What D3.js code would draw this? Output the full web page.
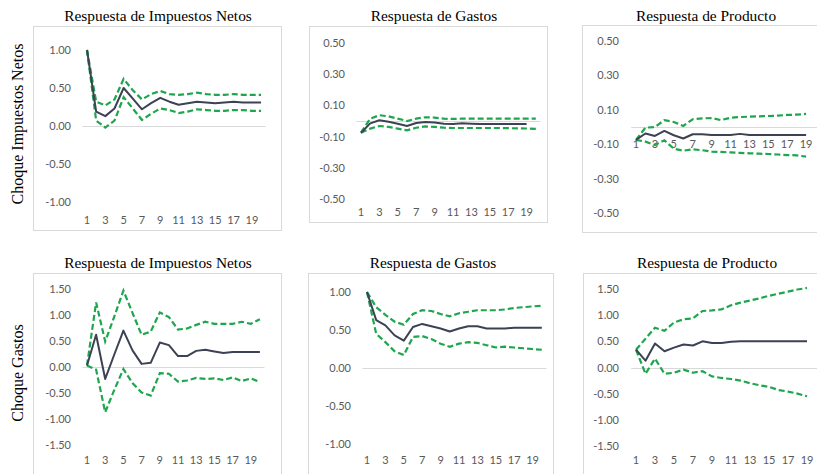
<!DOCTYPE html>
<html>
<head>
<meta charset="utf-8">
<script src="https://cdn.jsdelivr.net/npm/d3@7"></script>
<style>
  body { margin: 0; background: #fff; }
</style>
</head>
<body>
<svg id="chart" width="817" height="474"></svg>
<script>
// periods after the shock and the labelled ticks
const periods = [1, 2, 3, 4, 5, 6, 7, 8, 9, 10, 11, 12, 13, 14, 15, 16, 17, 18, 19, 20];
const xTickLabels = [1, 3, 5, 7, 9, 11, 13, 15, 17, 19];

const rowLabels = ["Choque Impuestos Netos", "Choque Gastos"];
const colTitles = ["Respuesta de Impuestos Netos", "Respuesta de Gastos", "Respuesta de Producto"];

const yTicksOne = [-1, -0.5, 0, 0.5, 1];
const yTicksHalf = [-0.5, -0.3, -0.1, 0.1, 0.3, 0.5];
const yTicksOneHalf = [-1.5, -1, -0.5, 0, 0.5, 1, 1.5];

// shock: impuestos netos
const impImpMid = [1.00, 0.19, 0.13, 0.23, 0.50, 0.36, 0.22, 0.30, 0.37, 0.32, 0.28, 0.30, 0.32, 0.31, 0.30, 0.31, 0.32, 0.31, 0.31, 0.31];
const impImpHi  = [1.00, 0.32, 0.27, 0.35, 0.62, 0.47, 0.35, 0.42, 0.46, 0.42, 0.41, 0.42, 0.44, 0.42, 0.41, 0.41, 0.42, 0.41, 0.41, 0.41];
const impImpLo  = [1.00, 0.07, -0.02, 0.07, 0.38, 0.23, 0.08, 0.16, 0.23, 0.21, 0.17, 0.19, 0.22, 0.21, 0.20, 0.20, 0.21, 0.21, 0.20, 0.20];

const impGasMid = [-0.075, -0.015, 0.005, -0.005, -0.018, -0.032, -0.013, -0.006, -0.010, -0.017, -0.020, -0.015, -0.018, -0.020, -0.020, -0.020, -0.020, -0.020, -0.020];
const impGasHi  = [-0.075, 0.015, 0.037, 0.030, 0.015, 0.000, 0.015, 0.024, 0.022, 0.015, 0.013, 0.015, 0.015, 0.015, 0.015, 0.015, 0.015, 0.015, 0.015, 0.015];
const impGasLo  = [-0.075, -0.049, -0.032, -0.038, -0.049, -0.060, -0.043, -0.035, -0.038, -0.043, -0.045, -0.045, -0.045, -0.045, -0.045, -0.045, -0.046, -0.047, -0.048, -0.050];

const impProdMid = [-0.075, -0.038, -0.052, -0.023, -0.048, -0.067, -0.042, -0.042, -0.046, -0.046, -0.046, -0.040, -0.046, -0.046, -0.046, -0.046, -0.046, -0.046, -0.046];
const impProdHi  = [-0.075, -0.004, 0.000, 0.040, 0.029, 0.006, 0.045, 0.050, 0.052, 0.040, 0.054, 0.058, 0.060, 0.062, 0.064, 0.066, 0.070, 0.072, 0.076];
const impProdLo  = [-0.075, -0.085, -0.105, -0.077, -0.126, -0.138, -0.130, -0.135, -0.143, -0.145, -0.148, -0.150, -0.153, -0.155, -0.157, -0.160, -0.163, -0.165, -0.172];

// shock: gastos
const gasImpMid = [0.03, 0.62, -0.23, 0.24, 0.70, 0.32, 0.06, 0.08, 0.47, 0.42, 0.21, 0.21, 0.31, 0.33, 0.30, 0.27, 0.29, 0.29, 0.29, 0.29];
const gasImpHi  = [0.03, 1.24, 0.49, 0.97, 1.47, 1.04, 0.62, 0.68, 1.05, 0.96, 0.72, 0.74, 0.81, 0.87, 0.83, 0.83, 0.83, 0.87, 0.83, 0.92];
const gasImpLo  = [0.03, -0.05, -0.87, -0.44, -0.04, -0.31, -0.49, -0.55, -0.12, -0.13, -0.28, -0.26, -0.21, -0.23, -0.22, -0.25, -0.20, -0.27, -0.22, -0.29];

const gasGasMid = [1.00, 0.63, 0.56, 0.43, 0.36, 0.54, 0.58, 0.55, 0.52, 0.48, 0.52, 0.55, 0.55, 0.52, 0.52, 0.52, 0.53, 0.53, 0.53, 0.53];
const gasGasHi  = [1.00, 0.80, 0.70, 0.61, 0.57, 0.71, 0.76, 0.75, 0.71, 0.68, 0.72, 0.74, 0.76, 0.76, 0.76, 0.77, 0.79, 0.80, 0.81, 0.82];
const gasGasLo  = [1.00, 0.45, 0.34, 0.22, 0.17, 0.41, 0.42, 0.38, 0.32, 0.28, 0.32, 0.34, 0.33, 0.30, 0.27, 0.28, 0.27, 0.26, 0.25, 0.24];

const gasProdMid = [0.34, 0.13, 0.46, 0.31, 0.38, 0.44, 0.42, 0.50, 0.47, 0.47, 0.49, 0.50, 0.50, 0.50, 0.50, 0.50, 0.50, 0.50, 0.50];
const gasProdHi  = [0.34, 0.55, 0.76, 0.70, 0.86, 0.92, 0.94, 1.08, 1.09, 1.11, 1.19, 1.24, 1.28, 1.32, 1.37, 1.41, 1.45, 1.49, 1.52];
const gasProdLo  = [0.34, -0.12, 0.17, -0.12, -0.10, -0.04, -0.10, -0.07, -0.17, -0.20, -0.22, -0.25, -0.30, -0.34, -0.37, -0.43, -0.46, -0.50, -0.55];

const svg = d3.select("#chart");

const MID_COLOR = "#3c4253";
const BAND_COLOR = "#1ea64f";
const GRID_COLOR = "#d9d9d9";
const TICK_COLOR = "#595959";

// panel layout: box, first category centre, category step, y range, where labels go
const panels = [
  { box: [33, 26, 281, 230], title: colTitles[0], titleX: 158, titleY: 21,
    x0: 87, step: 9.16, yDom: [-1, 1], yRng: [202, 50], ticks: yTicksOne, yLabX: 71, xLabY: 220,
    mid: impImpMid, hi: impImpHi, lo: impImpLo },
  { box: [309, 26, 547, 222], title: colTitles[1], titleX: 434, titleY: 21,
    x0: 361, step: 9.2, yDom: [-0.5, 0.5], yRng: [199, 43], ticks: yTicksHalf, yLabX: 345, xLabY: 212,
    mid: impGasMid, hi: impGasHi, lo: impGasLo },
  { box: [582, 25, 830, 232], title: colTitles[2], titleX: 706, titleY: 21,
    x0: 636, step: 9.45, yDom: [-0.5, 0.5], yRng: [213, 41], ticks: yTicksHalf, yLabX: 619, xLabY: 144,
    mid: impProdMid, hi: impProdHi, lo: impProdLo },
  { box: [33, 273, 281, 490], title: colTitles[0], titleX: 158, titleY: 268,
    x0: 87, step: 9.1, yDom: [-1.5, 1.5], yRng: [445, 289], ticks: yTicksOneHalf, yLabX: 71, xLabY: 460,
    mid: gasImpMid, hi: gasImpHi, lo: gasImpLo },
  { box: [308, 273, 553, 490], title: colTitles[1], titleX: 433, titleY: 268,
    x0: 367, step: 9.2, yDom: [-1, 1], yRng: [444, 292], ticks: yTicksOne, yLabX: 351, xLabY: 460,
    mid: gasGasMid, hi: gasGasHi, lo: gasGasLo },
  { box: [583, 273, 830, 490], title: colTitles[2], titleX: 707, titleY: 268,
    x0: 636, step: 9.5, yDom: [-1.5, 1.5], yRng: [446, 289], ticks: yTicksOneHalf, yLabX: 619, xLabY: 460,
    mid: gasProdMid, hi: gasProdHi, lo: gasProdLo }
];

function drawPanel(p) {
  const g = svg.append("g");

  // chart frame
  g.append("rect")
    .attr("x", p.box[0] + 0.5).attr("y", p.box[1] + 0.5)
    .attr("width", p.box[2] - p.box[0]).attr("height", p.box[3] - p.box[1])
    .attr("fill", "none").attr("stroke", GRID_COLOR).attr("stroke-width", 1);

  g.append("text")
    .attr("x", p.titleX).attr("y", p.titleY)
    .attr("text-anchor", "middle")
    .style("font-family", "'Liberation Serif', 'Times New Roman', serif")
    .style("font-size", "15.4px")
    .attr("fill", "#000")
    .text(p.title);

  const left = p.x0 - p.step / 2;
  const x = d3.scaleBand()
    .domain(periods)
    .range([left, left + p.step * periods.length]);
  const cx = d => x(d) + x.bandwidth() / 2;

  const y = d3.scaleLinear().domain(p.yDom).range(p.yRng);

  // horizontal axis line at zero
  g.append("line")
    .attr("x1", x.range()[0]).attr("x2", x.range()[1])
    .attr("y1", Math.round(y(0)) + 0.5).attr("y2", Math.round(y(0)) + 0.5)
    .attr("stroke", GRID_COLOR).attr("stroke-width", 1);

  const yAxis = g.append("g")
    .attr("transform", `translate(${p.yLabX},0)`)
    .call(d3.axisLeft(y).tickValues(p.ticks).tickSize(0).tickPadding(0)
      .tickFormat(d => d.toFixed(2)));
  yAxis.select(".domain").remove();

  const xAxis = g.append("g")
    .attr("transform", `translate(0,${p.xLabY - 4})`)
    .call(d3.axisBottom(x).tickValues(xTickLabels).tickSize(0).tickPadding(0));
  xAxis.select(".domain").remove();

  g.selectAll(".tick text")
    .style("font-family", "Lato, 'Open Sans', sans-serif")
    .style("font-size", "11px")
    .attr("fill", TICK_COLOR);

  const line = d3.line()
    .x((d, i) => cx(periods[i]))
    .y(d => y(d));

  [p.lo, p.hi].forEach(band => {
    g.append("path")
      .datum(band)
      .attr("fill", "none")
      .attr("stroke", BAND_COLOR)
      .attr("stroke-width", 2.2)
      .attr("stroke-dasharray", "6,3")
      .attr("d", line);
  });

  g.append("path")
    .datum(p.mid)
    .attr("fill", "none")
    .attr("stroke", MID_COLOR)
    .attr("stroke-width", 2)
    .attr("stroke-linejoin", "round")
    .attr("d", line);
}

panels.forEach(drawPanel);

// row labels on the left
const rowLabelY = [124, 373];
rowLabels.forEach((label, i) => {
  svg.append("text")
    .attr("transform", `translate(23,${rowLabelY[i]}) rotate(-90)`)
    .attr("text-anchor", "middle")
    .style("font-family", "'Liberation Serif', 'Times New Roman', serif")
    .style("font-size", "16px")
    .attr("fill", "#000")
    .text(label);
});
</script>
</body>
</html>
